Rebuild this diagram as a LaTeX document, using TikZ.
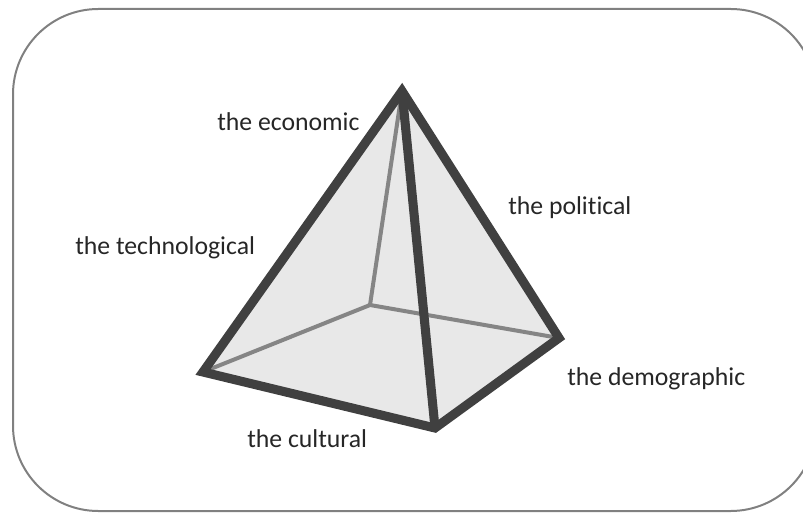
\documentclass[tikz,border=0pt]{standalone}
\usepackage{fontspec}
\setmainfont{Carlito}[Ligatures=NoCommon]
\usepackage{tikz}
\usetikzlibrary{positioning}
\definecolor{edgecol}{HTML}{404040}
\definecolor{hidcol}{HTML}{858585}
\definecolor{facecol}{HTML}{E8E8E8}
\definecolor{framecol}{HTML}{808080}

\begin{document}
\begin{tikzpicture}[
  x=0.75pt, y=-0.75pt,
  frontedge/.style={
    draw=edgecol, line width=6.8pt, line join=miter},
  backedge/.style={
    draw=hidcol, line width=3pt},
  lbl/.style={
    anchor=base west, inner sep=0pt, text=black!85,
    font=\fontsize{19.3}{23}\selectfont},
]
  \useasboundingbox (0,0) rectangle (803,513);

  % Frame
  \draw[framecol, line width=1.5pt, rounded corners=64pt]
    (13,9) rectangle (816,511);

  % Pyramid corners
  \coordinate (apex)  at (402,91);
  \coordinate (left)  at (203,372);
  \coordinate (front) at (435,428);
  \coordinate (right) at (559,338);
  \coordinate (back)  at (370,305);

  % Faces
  \fill[facecol] (left) -- (apex) -- (right) -- (front) -- cycle;

  % Hidden edges
  \draw[backedge] (apex) -- (back);
  \draw[backedge] (left) -- (back) -- (right);

  % Visible edges
  \draw[frontedge] (left) -- (apex) -- (right) -- (front) -- cycle;
  \draw[frontedge] (apex) -- (front);

  % Labels
  \node[lbl] (econ)  at (217,131) {the economic};
  \node[lbl] (techn) at (75,255)  {the technological};
  \node[lbl] (polit) at (508,215) {the political};
  \node[lbl] (demog) at (567,385) {the demographic};
  \node[lbl] (cult)  at (247,447) {the cultural};

\end{tikzpicture}
\end{document}
